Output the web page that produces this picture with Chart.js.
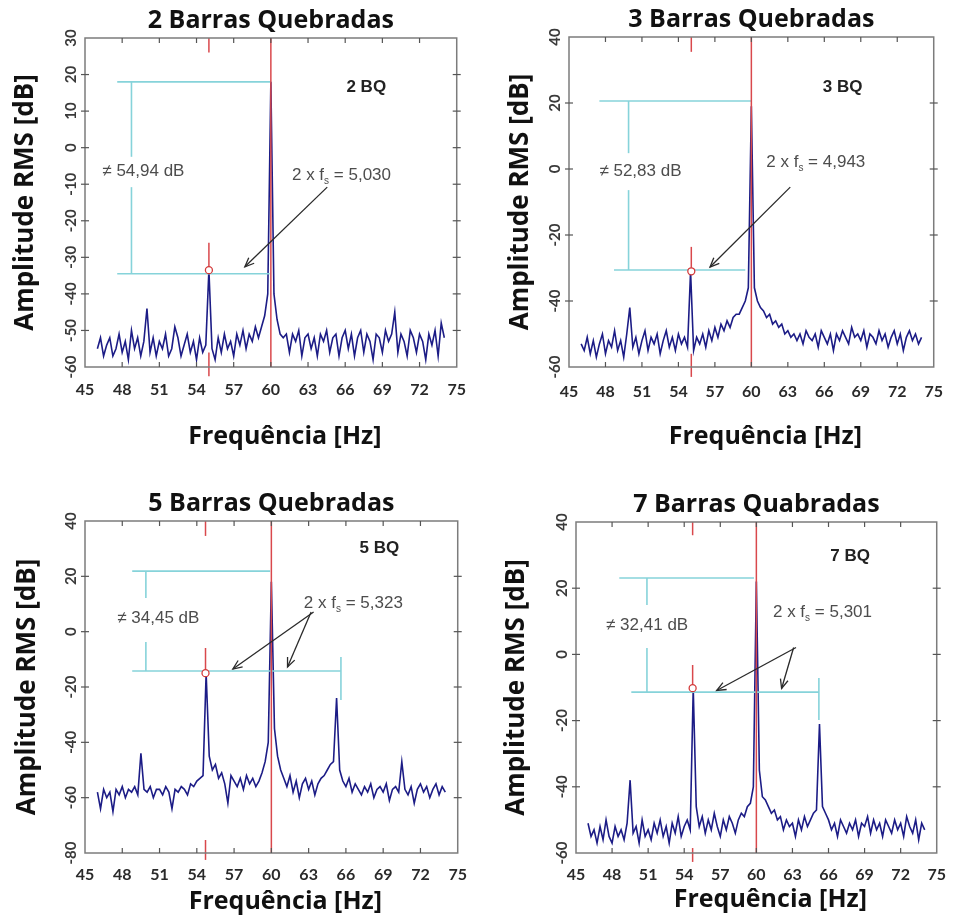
<!DOCTYPE html>
<html><head><meta charset="utf-8">
<script src="https://cdn.jsdelivr.net/npm/chart.js@4.4.1/dist/chart.umd.min.js"></script>
<style>
html,body{margin:0;padding:0;background:#fff;}
#wrap{position:relative;width:958px;height:920px;overflow:hidden;}
canvas{position:absolute;}
</style></head><body>
<div id="wrap">
<canvas id="c1" width="479" height="460" style="left:0;top:0"></canvas>
<canvas id="c2" width="479" height="460" style="left:479px;top:0"></canvas>
<canvas id="c3" width="479" height="460" style="left:0;top:460px"></canvas>
<canvas id="c4" width="479" height="460" style="left:479px;top:460px"></canvas>
</div>
<script>
// ---------- DATA ----------
const titles = ['2 Barras Quebradas', '3 Barras Quebradas', '5 Barras Quebradas', '7 Barras Quabradas'];
const tags = ['2 BQ', '3 BQ', '5 BQ', '7 BQ'];
const dbDiff = ['54,94', '52,83', '34,45', '32,41'];
const twoFs = ['5,030', '4,943', '5,323', '5,301'];
const xTicks = [45, 48, 51, 54, 57, 60, 63, 66, 69, 72, 75];
const yMin = [-60, -60, -80, -60];
const yMax = [30, 40, 40, 40];
const yStep = [10, 20, 20, 20];
const fundamental = [60, 60, 60, 60];
const sidebandFreq = [55.0, 55.06, 54.7, 54.7];
const sidebandAmp = [-33.5, -31, -15, -10.2];

const freqs = [
 46,46.25,46.5,46.75, 47,47.25,47.5,47.75, 48,48.25,48.5,48.75, 49,49.25,49.5,49.75,
 50,50.25,50.5,50.75, 51,51.25,51.5,51.75, 52,52.25,52.5,52.75, 53,53.25,53.5,53.75,
 54,54.25,54.5,54.75, 55,55.25,55.5,55.75, 56,56.25,56.5,56.75, 57,57.25,57.5,57.75,
 58,58.25,58.5,58.75, 59,59.25,59.5,59.75, 60,60.25,60.5,60.75, 61,61.25,61.5,61.75,
 62,62.25,62.5,62.75, 63,63.25,63.5,63.75, 64,64.25,64.5,64.75, 65,65.25,65.5,65.75,
 66,66.25,66.5,66.75, 67,67.25,67.5,67.75, 68,68.25,68.5,68.75, 69,69.25,69.5,69.75,
 70,70.25,70.5,70.75, 71,71.25,71.5,71.75, 72,72.25,72.5,72.75, 73,73.25,73.5,73.75,
 74
];
const amp2BQ = [
 -55,-52,-57,-54, -52,-57,-55,-51, -56,-53,-58,-50, -55,-52,-57,-53,
 -44,-56,-52,-57, -53,-55,-51,-57, -55,-49,-52,-57, -54,-51,-56,-53,
 -58,-52,-56,-54, -33.5,-55,-58,-52, -56,-51,-55,-53, -57,-51,-54,-50,
 -55,-51,-53,-49, -52,-49,-46,-40, 18,-40,-47,-51, -52,-51,-56,-51,
 -53,-50,-57,-52, -51,-55,-52,-57, -51,-53,-50,-56, -52,-51,-57,-52,
 -50,-55,-51,-57, -52,-50,-56,-51, -53,-58,-51,-52, -56,-50,-53,-51,
 -45,-56,-51,-53, -57,-50,-52,-56, -51,-53,-58,-51, -54,-50,-57,-48,
 -52
];
const amp3BQ = [
 -53,-55,-51,-56, -52,-57,-53,-50, -56,-52,-54,-49, -55,-52,-57,-50,
 -42,-54,-51,-56, -52,-49,-55,-51, -53,-50,-56,-52, -49,-54,-51,-55,
 -50,-53,-51,-54, -31,-55,-51,-53, -50,-54,-49,-52, -48,-51,-47,-49,
 -46,-48,-45,-44, -44,-42,-40,-36, 19,-36,-40,-42, -43,-45,-44,-47,
 -46,-48,-47,-50, -49,-51,-50,-52, -50,-53,-49,-51, -52,-50,-54,-49,
 -51,-53,-50,-55, -50,-52,-49,-51, -53,-48,-51,-50, -52,-49,-54,-50,
 -51,-53,-49,-52, -50,-54,-51,-49, -53,-50,-55,-51, -49,-52,-50,-53,
 -51
];
const amp5BQ = [
 -58,-64,-57,-60, -58,-65,-57,-59, -56,-60,-57,-58, -56,-59,-44,-57,
 -58,-56,-60,-57, -57,-59,-56,-58, -64,-57,-58,-56, -57,-59,-55,-56,
 -54,-53,-52,-15, -45,-50,-48,-53, -51,-55,-62,-52, -54,-56,-53,-57,
 -52,-55,-53,-56, -54,-51,-47,-40, 18,-35,-45,-50, -53,-56,-52,-58,
 -54,-60,-55,-53, -57,-54,-59,-55, -53,-52,-50,-48, -47,-24,-50,-54,
 -56,-53,-58,-55, -57,-59,-56,-58, -55,-60,-57,-56, -58,-55,-61,-57,
 -56,-58,-47,-57, -59,-56,-62,-57, -55,-58,-56,-60, -57,-55,-59,-56,
 -58
];
const amp7BQ = [
 -51,-55,-53,-57, -52,-56,-50,-55, -57,-52,-55,-53, -56,-51,-38,-54,
 -52,-57,-50,-55, -53,-56,-51,-54, -50,-55,-52,-57, -51,-54,-49,-55,
 -52,-50,-53,-10.2, -46,-52,-49,-54, -50,-53,-48,-52, -55,-50,-53,-49,
 -51,-54,-50,-48, -49,-46,-45,-40, 22,-35,-43,-44, -46,-48,-47,-50,
 -49,-53,-50,-52, -51,-55,-50,-53, -49,-52,-50,-48, -47,-21,-46,-48,
 -50,-53,-51,-55, -50,-52,-54,-51, -53,-50,-55,-51, -52,-49,-54,-50,
 -53,-51,-55,-50, -52,-54,-50,-53, -51,-55,-49,-52, -54,-50,-56,-51,
 -53
];
const amps = [amp2BQ, amp3BQ, amp5BQ, amp7BQ];

// annotation geometry in data units (Hz, dB)
const notes = [
 { h: [[18, 47.6, 60], [-34.5, 47.6, 59.9]],
   v: [[48.75, 18, -2.5], [48.75, -10.8, -34.5]],
   red: [[30, 26], [-26, -33.5], [-56, -62.5]],
   diffAt: [46.4, -6.6], fsAt: [65.7, -7.5], tagAt: [67.7, 16.6],
   arrows: [[64.55, -10.8, 57.9, -32.6]] },
 { h: [[20.6, 47.5, 60], [-30.6, 48.7, 59.5]],
   v: [[49.9, 20.6, 4.8], [49.9, -6.4, -30.6]],
   red: [[40, 35.5], [-23.6, -31], [-56, -63]],
   diffAt: [47.5, -0.6], fsAt: [65.3, 2.1], tagAt: [67.5, 24.8],
   arrows: [[63.2, -5.5, 56.6, -29.7]] },
 { h: [[21.9, 48.8, 59.9], [-14.2, 48.8, 65.6]],
   v: [[49.9, 21.9, 12.2], [49.9, -3.7, -14.2], [65.6, -9.2, -24.7]],
   red: [[40, 34.6], [-5.9, -15], [-75.3, -82.5]],
   diffAt: [47.6, 4.9], fsAt: [66.6, 10.4], tagAt: [68.7, 30.2],
   arrows: [[63.4, 7.1, 56.9, -13.5], [63.2, 7.1, 61.3, -12.8]] },
 { h: [[23.1, 48.6, 59.8], [-11.4, 49.6, 65.2]],
   v: [[50.9, 23.1, 14.9], [50.9, 1.9, -11.4], [65.2, -7.1, -19.8]],
   red: [[40, 36], [-3.2, -10.2], [-58.5, -62.7]],
   diffAt: [47.5, 8.9], fsAt: [65.5, 12.8], tagAt: [67.8, 29.7],
   arrows: [[63.3, 2.1, 56.7, -10.9], [63.1, 2.1, 62.1, -10.3]] }
];

// layout per panel (canvas px)
const layoutCfg = [
 { left: 85, right: 461, top: 38, bottom: 367, tTop: 6, tBot: 2, yTitlePad: 10.4, xPad: 13, xTitleY: 437 },
 { left: 90, right: 472, top: 37, bottom: 367, tTop: 5, tBot: 2, yTitlePad: 25.9, xPad: 15, xTitleY: 437 },
 { left: 85, right: 468, top: 61, bottom: 393, tTop: 29, tBot: 2, yTitlePad: 11.9, xPad: 12, xTitleY: 442 },
 { left: 97, right: 475, top: 62, bottom: 393, tTop: 30, tBot: 2, yTitlePad: 22.4, xPad: 12, xTitleY: 440 }
];

// ---------- DRAWING HELPERS ----------
function seg(ctx, x1, y1, x2, y2) { ctx.beginPath(); ctx.moveTo(x1, y1); ctx.lineTo(x2, y2); ctx.stroke(); }
const AFONT = '"Liberation Sans", Arial, sans-serif';

const annoPlugin = {
  id: 'anno',
  afterDatasetDraw(chart, args) {
    if (args.index !== 0) return;
    const k = chart.$panel, n = notes[k];
    const ctx = chart.ctx, xs = chart.scales.x, ys = chart.scales.y, ca = chart.chartArea;
    const X = v => xs.getPixelForValue(v), Y = v => ys.getPixelForValue(v);
    ctx.save();
    ctx.lineCap = 'butt';
    ctx.strokeStyle = '#86d3da'; ctx.lineWidth = 1.6;
    n.h.forEach(([y, x1, x2]) => seg(ctx, X(x1), Y(y), X(x2), Y(y)));
    n.v.forEach(([x, y1, y2]) => seg(ctx, X(x), Y(y1), X(x), Y(y2)));
    ctx.strokeStyle = '#d9484c'; ctx.lineWidth = 1.5;
    seg(ctx, X(fundamental[k]), ca.top, X(fundamental[k]), ca.bottom);
    n.red.forEach(([y1, y2]) => seg(ctx, X(sidebandFreq[k]), Y(y1), X(sidebandFreq[k]), Y(y2)));
    // texts
    ctx.fillStyle = '#4d4d4d';
    ctx.textBaseline = 'middle';
    ctx.font = '17px ' + AFONT;
    ctx.textAlign = 'left';
    ctx.fillText('\u2260 ' + dbDiff[k] + ' dB', X(n.diffAt[0]), Y(n.diffAt[1]));
    const a = '2 x f', b = 's', c = ' = ' + twoFs[k];
    ctx.font = '17px ' + AFONT;
    const wa = ctx.measureText(a).width, wc = ctx.measureText(c).width;
    ctx.font = '10px ' + AFONT;
    const wb = ctx.measureText(b).width;
    let sx = X(n.fsAt[0]) - (wa + wb + wc) / 2; const sy = Y(n.fsAt[1]);
    ctx.font = '17px ' + AFONT;
    ctx.fillText(a, sx, sy); sx += wa;
    ctx.font = '10px ' + AFONT;
    ctx.fillText(b, sx, sy + 6); sx += wb;
    ctx.font = '17px ' + AFONT;
    ctx.fillText(c, sx, sy);
    ctx.fillStyle = '#222';
    ctx.font = 'bold 17px ' + AFONT;
    ctx.textAlign = 'center';
    ctx.fillText(tags[k], X(n.tagAt[0]), Y(n.tagAt[1]));
    // arrows
    ctx.strokeStyle = '#2a2a2a'; ctx.lineWidth = 1.3;
    n.arrows.forEach(([x1, y1, x2, y2]) => {
      const px1 = X(x1), py1 = Y(y1), px2 = X(x2), py2 = Y(y2);
      seg(ctx, px1, py1, px2, py2);
      const ang = Math.atan2(py2 - py1, px2 - px1), L = 10, w = 0.4;
      ctx.beginPath();
      ctx.moveTo(px2 - L * Math.cos(ang - w), py2 - L * Math.sin(ang - w));
      ctx.lineTo(px2, py2);
      ctx.lineTo(px2 - L * Math.cos(ang + w), py2 - L * Math.sin(ang + w));
      ctx.stroke();
    });
    ctx.restore();
  },
  afterDraw(chart) {
    const k = chart.$panel, ctx = chart.ctx, ca = chart.chartArea;
    const xs = chart.scales.x, ys = chart.scales.y;
    ctx.save();
    ctx.strokeStyle = '#7c7c7c'; ctx.lineWidth = 1.5;
    ctx.strokeRect(ca.left, ca.top, ca.right - ca.left, ca.bottom - ca.top);
    ctx.lineWidth = 1.2; ctx.strokeStyle = '#555';
    xs.ticks.forEach(t => {
      const px = xs.getPixelForValue(t.value);
      if (px <= ca.left + 1 || px >= ca.right - 1) return;
      seg(ctx, px, ca.bottom, px, ca.bottom - 5);
      seg(ctx, px, ca.top, px, ca.top + 5);
    });
    ys.ticks.forEach(t => {
      const py = ys.getPixelForValue(t.value);
      if (py <= ca.top + 1 || py >= ca.bottom - 1) return;
      seg(ctx, ca.left - 4, py, ca.left + 4, py);
      seg(ctx, ca.right - 4, py, ca.right + 4, py);
    });
    // x axis title
    ctx.fillStyle = '#111';
    ctx.font = 'bold 25px "Open Sans", sans-serif';
    ctx.textAlign = 'center'; ctx.textBaseline = 'middle';
    ctx.fillText('Frequ\u00eancia [Hz]', (ca.left + ca.right) / 2 + 14, layoutCfg[k].xTitleY);
    ctx.restore();
  }
};

function makeChart(k) {
  const L = layoutCfg[k];
  const canvas = document.getElementById('c' + (k + 1));
  const W = canvas.width, H = canvas.height;
  return new Chart(canvas, {
    type: 'line',
    data: {
      datasets: [
        { data: freqs.map((f, i) => ({ x: f, y: amps[k][i] })), borderColor: '#1c1c86', borderWidth: 1.6,
          pointRadius: 0, tension: 0, fill: false, order: 2 },
        { data: [{ x: sidebandFreq[k], y: sidebandAmp[k] }], showLine: false, pointRadius: 3.5,
          pointBorderColor: '#d33a3a', pointBackgroundColor: '#ffffff', pointBorderWidth: 1.3, order: 1 }
      ]
    },
    options: {
      responsive: false, devicePixelRatio: 1, animation: false, events: [],
      layout: { padding: { left: 0, top: 0, right: W - L.right, bottom: 0 } },
      plugins: {
        legend: { display: false }, tooltip: { enabled: false },
        title: { display: true, text: titles[k], fullSize: false, color: '#111',
          font: { family: 'Open Sans', weight: 'bold', size: 25, lineHeight: 1.2 },
          padding: { top: L.tTop, bottom: L.tBot } }
      },
      scales: {
        x: {
          type: 'linear', min: 45, max: 75,
          afterBuildTicks: s => { s.ticks = xTicks.map(v => ({ value: v })); },
          afterFit: s => { s.height = H - L.bottom; },
          grid: { display: false, drawTicks: false }, border: { display: false },
          ticks: { autoSkip: false, maxRotation: 0, padding: L.xPad, color: '#2a2a2a',
            font: { family: 'Lato', weight: 'bold', size: 16 }, callback: v => String(v) }
        },
        y: {
          type: 'linear', min: yMin[k], max: yMax[k],
          afterFit: s => { s.width = L.left; },
          grid: { display: false, drawTicks: false }, border: { display: false },
          ticks: { stepSize: yStep[k], autoSkip: false, minRotation: 90, maxRotation: 90, crossAlign: 'center',
            padding: 2, color: '#3a3a3a', font: { family: 'Lato', weight: 'bold', size: 15 }, callback: v => String(v) },
          title: { display: true, text: 'Amplitude RMS [dB]', color: '#111',
            font: { family: 'Open Sans', weight: 'bold', size: 26, lineHeight: 1.2 },
            padding: { top: L.yTitlePad, bottom: 0 } }
        }
      }
    },
    plugins: [{ id: 'panel', beforeInit(c) { c.$panel = k; } }, annoPlugin]
  });
}
[0, 1, 2, 3].forEach(makeChart);
</script>
</body></html>
